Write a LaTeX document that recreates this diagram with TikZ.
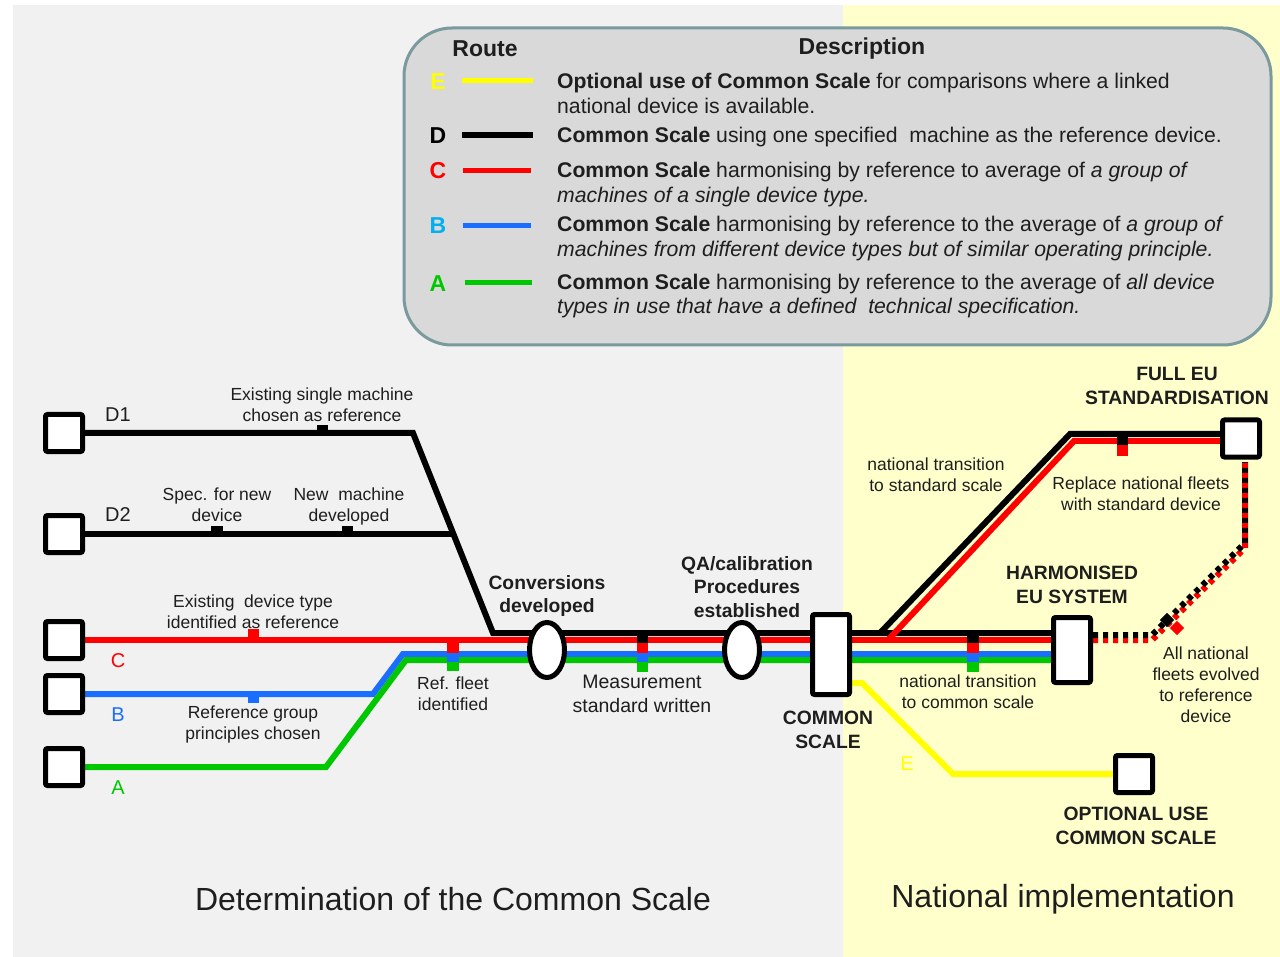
\documentclass[tikz,border=0pt]{standalone}
\usepackage{fontspec}
\setmainfont{Liberation Sans}
\usetikzlibrary{shapes.geometric}
\pgfdeclarelayer{bg}
\pgfdeclarelayer{lines}
\pgfsetlayers{bg,lines,main}
\definecolor{cRed}{RGB}{255,0,0}
\definecolor{cBlue}{RGB}{25,110,255}
\definecolor{cGreen}{RGB}{0,200,0}
\definecolor{cYel}{RGB}{255,255,0}
\definecolor{cLB}{RGB}{0,176,240}
\definecolor{bgGray}{RGB}{241,241,241}
\definecolor{bgYel}{RGB}{255,255,204}
\definecolor{legFill}{RGB}{217,217,217}
\definecolor{legBord}{RGB}{122,154,158}
\definecolor{txt}{RGB}{30,30,30}
\begin{document}
\begin{tikzpicture}[x=1pt,y=-1pt,
  box/.style={draw=black, fill=white, line width=5pt, rounded corners=2pt, minimum width=37pt, minimum height=37pt, inner sep=0pt},
  oval/.style={draw=black, fill=white, ellipse, line width=5pt, minimum width=35pt, minimum height=55pt, inner sep=0pt},
  route/.style={line width=6pt},
  dotroute/.style={line width=6pt, dash pattern=on 5pt off 5pt},
  lbl/.style={font=\fontsize{17.5}{21}\selectfont, text=txt, align=center, inner sep=0pt},
  blbl/.style={font=\fontsize{19.3}{23.5}\selectfont\bfseries, text=txt, align=center, inner sep=0pt},
  letter/.style={font=\fontsize{20}{20}\selectfont, inner sep=0pt},
  legtxt/.style={font=\fontsize{21.2}{25}\selectfont, text=txt, anchor=base west, inner sep=0pt},
  leglet/.style={font=\fontsize{23}{25}\selectfont\bfseries, inner sep=0pt},
  legline/.style={line width=5pt},
  big/.style={font=\fontsize{32}{36}\selectfont, text=txt, inner sep=0pt}
]
\useasboundingbox (0,0) rectangle (1280,957);
\begin{pgfonlayer}{bg}
\fill[bgGray] (13,5) rectangle (843,957);
\fill[bgYel] (843,5) rectangle (1280,957);
\end{pgfonlayer}

% legend
\draw[legBord, fill=legFill, line width=3pt, rounded corners=48pt] (404,28) rectangle (1271,345);
\node[leglet, text=txt] (hroute) at (485,49) {Route};
\node[leglet, text=txt] (hdesc) at (862,49) {Description};
\node[leglet, text=cYel] (le) at (438,82) {E};
\node[leglet, text=black] (ld) at (438,136) {D};
\node[leglet, text=cRed] (lc) at (438,171) {C};
\node[leglet, text=cLB] (lb) at (438,226) {B};
\node[leglet, text=cGreen] (la) at (438,284) {A};
\draw[legline, cYel] (462,81) -- (533,81);
\draw[legline, black, line width=6pt] (462,135) -- (533,135);
\draw[legline, cRed] (463,171) -- (531,171);
\draw[legline, cBlue] (463,226) -- (531,226);
\draw[legline, cGreen] (465,283) -- (532,283);
\node[legtxt] (te1) at (557,89) {\textbf{Optional use of Common Scale} for comparisons where a linked};
\node[legtxt] (te2) at (557,114) {national device is available.};
\node[legtxt] (td1) at (557,143) {\textbf{Common Scale} using one specified\ \ machine as the reference device.};
\node[legtxt] (tc1) at (557,178) {\textbf{Common Scale} harmonising by reference to average of \textit{a group of}};
\node[legtxt] (tc2) at (557,203) {\textit{machines of a single device type.}};
\node[legtxt] (tb1) at (557,232) {\textbf{Common Scale} harmonising by reference to the average of \textit{a group of}};
\node[legtxt] (tb2) at (557,257) {\textit{machines from different device types but of similar operating principle.}};
\node[legtxt] (ta1) at (557,290) {\textbf{Common Scale} harmonising by reference to the average of \textit{all device}};
\node[legtxt] (ta2) at (557,314) {\textit{types in use that have a defined\ \ technical specification.}};

% boxes
\node[box] (d1) at (64,433) {};
\node[box] (d2) at (64,534) {};
\node[box] (c) at (64,640) {};
\node[box] (b) at (64,694) {};
\node[box] (a) at (64,767) {};
\node[oval] (conv) at (547,650) {};
\node[oval] (qa) at (742,650) {};
\node[box, minimum height=80pt] (cs) at (831,654.5) {};
\node[box, minimum height=65pt] (harm) at (1072,650) {};
\node[box] (full) at (1241,438.5) {};
\node[box] (opt) at (1134,774) {};

% routes
\begin{pgfonlayer}{lines}
\draw[route, cRed] (c.east) -- (c.east -| harm.west);
\draw[route, black] (d1.east) -- (413,433) -- (493,633) -- (harm.west |- 0,633);
\draw[route, black] (d2.east) -- (453,534);
\draw[route, cBlue] (b.east) -- (373,694) -- (403,654) -- (harm.west |- 0,654);
\draw[route, cGreen] (a.east) -- (326,767) -- (406,660) -- (harm.west |- 0,660);
\draw[route, cRed] (888,640) -- (1074,441) -- (full.west |- 0,441);
\draw[route, black] (880,633) -- (1070,434) -- (full.west |- 0,434);
\draw[route, cYel] (cs.east |- 0,683) -- (862,683) -- (953,774) -- (opt.west);
\draw[dotroute, cRed] (harm.east |- 0,640) -- (1152,640) -- (1245,548) -- (1245,460);
\draw[dotroute, black] (harm.east |- 0,635) -- (1152,635) -- (1245,543) -- (1245,462);
% ticks
\fill[black] (317,425) rectangle (328,433);
\fill[black] (211,526) rectangle (223,534);
\fill[black] (342,526) rectangle (353,534);
\fill[cRed] (248,629) rectangle (259,640);
\fill[cBlue] (248,694) rectangle (259,703);
\fill[cRed] (447,643) rectangle (459,653);
\fill[cBlue] (447,653) rectangle (459,662);
\fill[cGreen] (447,662) rectangle (459,671);
\fill[black] (637,634) rectangle (648,643);
\fill[cRed] (637,643) rectangle (648,653);
\fill[cBlue] (637,653) rectangle (648,662);
\fill[cGreen] (637,662) rectangle (648,672);
\fill[black] (967,634) rectangle (979,643);
\fill[cRed] (967,643) rectangle (979,653);
\fill[cBlue] (967,653) rectangle (979,662);
\fill[cGreen] (967,662) rectangle (979,672);
\fill[black] (1117,434) rectangle (1128,445);
\fill[cRed] (1117,445) rectangle (1128,456);
\fill[cRed, rotate around={45:(1177,628)}] (1172,623) rectangle (1182,633);
\fill[black, rotate around={45:(1167,620)}] (1162,615) rectangle (1172,625);
\end{pgfonlayer}

% labels
\node[letter, text=txt] (nd1) at (118,415) {D1};
\node[letter, text=txt] (nd2) at (118,515) {D2};
\node[letter, text=cRed] (nc) at (118,661) {C};
\node[letter, text=cBlue] (nb) at (118,715) {B};
\node[letter, text=cGreen] (na) at (118,788) {A};
\node[letter, text=cYel] (ne) at (907,764) {E};
\node[lbl] (t1) at (322,405) {Existing single machine\\chosen as reference};
\node[lbl] (t2) at (217,505) {Spec. for new\\device};
\node[lbl] (t3) at (349,506) {New\ \ machine\\developed};
\node[lbl] (t4) at (253,612) {Existing\ \ device type\\identified as reference};
\node[lbl] (t5) at (253,724) {Reference group\\principles chosen};
\node[lbl] (t6) at (453,694) {Ref. fleet\\identified};
\node[blbl] (t7) at (547,596) {Conversions\\developed};
\node[blbl] (t8) at (747,587) {QA/calibration\\Procedures\\established};
\node[lbl, font=\fontsize{19.5}{24}\selectfont] (t9) at (642,694) {Measurement\\standard written};
\node[blbl] (t10) at (828,730) {COMMON\\SCALE};
\node[blbl] (t11) at (1177,386) {FULL EU\\STANDARDISATION};
\node[lbl] (t12) at (936,475) {national transition\\to standard scale};
\node[lbl] (t13) at (1141,494) {Replace national fleets\\with standard device};
\node[blbl] (t14) at (1072,585) {HARMONISED\\EU SYSTEM};
\node[lbl] (t15) at (1206,685) {All national\\fleets evolved\\to reference\\device};
\node[lbl] (t16) at (968,692) {national transition\\to common scale};
\node[blbl] (t17) at (1136,826) {OPTIONAL USE\\COMMON SCALE};
\node[big] (t18) at (453,899) {Determination of the Common Scale};
\node[big] (t19) at (1063,899) {National implementation};
\end{tikzpicture}
\end{document}
